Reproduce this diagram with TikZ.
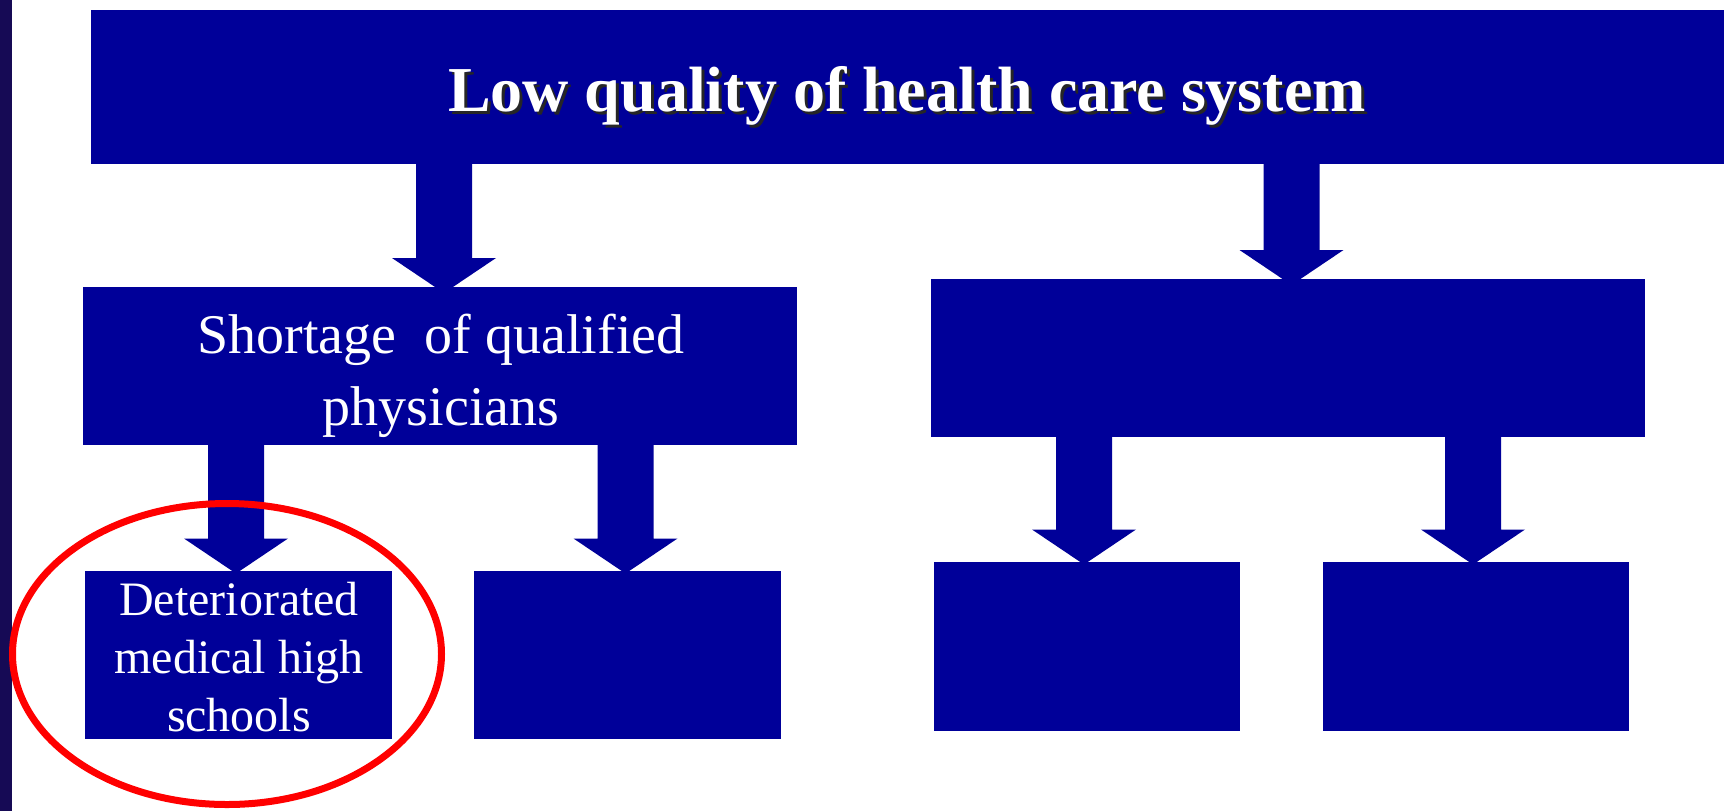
\documentclass[tikz,border=0pt]{standalone}
\usepackage{fontspec}
\setmainfont{Liberation Serif}
\usetikzlibrary{shapes.geometric,calc}
\pgfdeclarelayer{background}
\pgfsetlayers{background,main}
\definecolor{boxblue}{RGB}{0,0,153}
\definecolor{stripnavy}{RGB}{22,10,85}
\newcommand\blockarrow[4]{%
  \fill[arr] let \p1=(#1.south), \p2=(#2.north) in
    ({(#3-28)*0.5pt},{\y1+2pt}) -- ({(#3+28)*0.5pt},{\y1+2pt})
    -- ({(#3+28)*0.5pt},{\y2+#4*0.5pt}) -- ({(#3+52)*0.5pt},{\y2+#4*0.5pt})
    -- ({#3*0.5pt},{\y2+#4*0.5pt-17.5pt}) -- ({(#3-52)*0.5pt},{\y2+#4*0.5pt})
    -- ({(#3-28)*0.5pt},{\y2+#4*0.5pt}) -- cycle;}
\begin{document}
\begin{tikzpicture}[x=0.5pt,y=-0.5pt,
  box/.style={rectangle, fill=boxblue, inner sep=0pt, outer sep=0pt},
  arr/.style={fill=boxblue},
  lbl/.style={text=white, inner sep=0pt, align=center},
  titlefont/.style={font=\fontsize{32}{38}\selectfont\bfseries},
  ring/.style={ellipse, draw=red, line width=3.5pt, inner sep=0pt}
 ]
\useasboundingbox (0,0) rectangle (1724,811);

% boxes
\node[box, minimum width=816.65pt, minimum height=77pt] (top) at (907.35,87) {};
\node[box, minimum width=357pt, minimum height=79pt] (short) at (439.5,366) {};
\node[box, minimum width=357pt, minimum height=79pt] (right) at (1288,358) {};
\node[box, minimum width=153.5pt, minimum height=84pt] (det) at (238.5,655) {};
\node[box, minimum width=153.5pt, minimum height=84pt] (bboxb) at (627.5,655) {};
\node[box, minimum width=153.25pt, minimum height=84.5pt] (bboxc) at (1086.75,646.5) {};
\node[box, minimum width=153pt, minimum height=84.5pt] (bboxd) at (1476,646.5) {};

% texts
\node[titlefont, text=black!85, anchor=base, inner sep=0pt] (titleshadow) at (910,114) {Low quality of health care system};
\node[lbl, titlefont, anchor=base] (title) at (907,111) {Low quality of health care system};
\node[lbl, font=\fontsize{28}{36}\selectfont] (shorttxt) at (441,376) {Shortage\ \ of qualified\\physicians};
\node[lbl, font=\fontsize{24}{29}\selectfont] (dettxt) at (239,657) {Deteriorated\\medical high\\schools};

% highlight
\node[ring, minimum width=214.5pt, minimum height=150.5pt] (highlight) at (227,654) {};

% background and arrows
\begin{pgfonlayer}{background}
\fill[white] (0,0) rectangle (1724,811);
\fill[stripnavy] (0,0) rectangle (12,811);
\blockarrow{top}{short}{444}{29}
\blockarrow{top}{right}{1291.5}{29}
\blockarrow{short}{det}{236}{32.5}
\blockarrow{short}{bboxb}{625.5}{32.5}
\blockarrow{right}{bboxc}{1084}{32.5}
\blockarrow{right}{bboxd}{1473}{32.5}
\end{pgfonlayer}
\end{tikzpicture}
\end{document}
